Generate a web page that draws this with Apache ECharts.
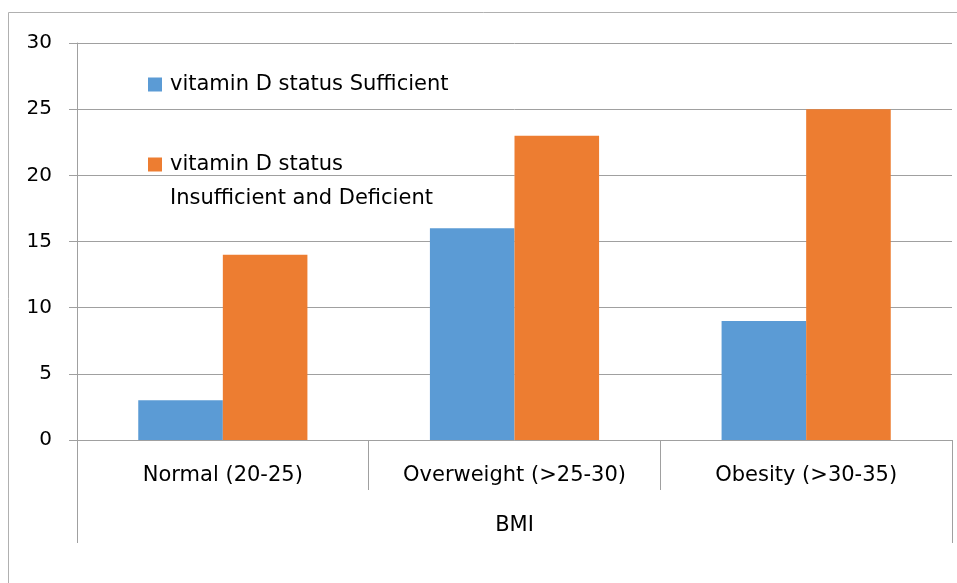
<!DOCTYPE html>
<html>
<head>
<meta charset="utf-8">
<script src="https://cdn.jsdelivr.net/npm/echarts@6/dist/echarts.min.js"></script>
<style>html,body{margin:0;padding:0;background:#fff}#c{width:957px;height:583px}</style>
</head>
<body>
<div id="c"></div>
<script>
var categories = ['Normal (20-25)', 'Overweight (>25-30)', 'Obesity (>30-35)'];
var sufficient = [3, 16, 9];
var insufficient = [14, 23, 25];
var seriesNames = ['vitamin D status Sufficient', 'vitamin D status Insufficient and Deficient'];
var yTicks = [0, 5, 10, 15, 20, 25, 30];
var axisTitle = 'BMI';

var FONT = 'DejaVu Sans';
var FS = 21;
var grey = '#a0a0a0';
var chart = echarts.init(document.getElementById('c'));
chart.setOption({
  animation: false,
  textStyle: {fontFamily: FONT},
  graphic: [
    {type: 'rect', shape: {x: 8.5, y: 12.5, width: 1200, height: 800}, style: {fill: 'none', stroke: '#b0b0b0', lineWidth: 1}, z: -1},
    {type: 'text', left: 170, top: 188, style: {text: 'Insufficient and Deficient', font: FS + 'px "DejaVu Sans"', fill: '#000'}}
  ],
  legend: [
    {data: [seriesNames[0]], left: 143, top: 69, orient: 'vertical', icon: 'rect', itemWidth: 14, itemHeight: 14,
     textStyle: {fontSize: FS, color: '#000', fontFamily: FONT, padding: [0,0,0,3]}},
    {data: [seriesNames[1]], left: 143, top: 149, orient: 'vertical', icon: 'rect', itemWidth: 14, itemHeight: 14,
     formatter: function () { return 'vitamin D status'; },
     textStyle: {fontSize: FS, color: '#000', fontFamily: FONT, padding: [0,0,0,3]}}
  ],
  grid: {left: 77, right: 5, top: 43, bottom: 143, containLabel: false},
  xAxis: [
    {type: 'category', data: categories, position: 'bottom',
     axisLine: {lineStyle: {color: grey}},
     axisTick: {show: true, length: 50, interval: 0, lineStyle: {color: grey}},
     axisLabel: {color: '#000', fontSize: FS, margin: 25, fontFamily: FONT, interval: 0}},
    {type: 'category', data: [axisTitle], position: 'bottom', offset: 0,
     axisLine: {show: false},
     axisTick: {show: true, length: 103, lineStyle: {color: grey}},
     axisLabel: {color: '#000', fontSize: FS, margin: 75, fontFamily: FONT}}
  ],
  yAxis: {type: 'value', min: yTicks[0], max: yTicks[yTicks.length-1], interval: 5,
    axisLine: {show: true, lineStyle: {color: grey}},
    axisTick: {show: true, length: 8, lineStyle: {color: grey}},
    splitLine: {lineStyle: {color: grey}},
    axisLabel: {color: '#000', fontSize: 20, margin: 25, fontFamily: FONT}},
  series: [
    {name: seriesNames[0], type: 'bar', data: sufficient, itemStyle: {color: '#5B9BD5'}, barGap: '0%', barCategoryGap: '42%'},
    {name: seriesNames[1], type: 'bar', data: insufficient, itemStyle: {color: '#ED7D31'}, barGap: '0%', barCategoryGap: '42%'}
  ]
});
</script>
</body>
</html>
